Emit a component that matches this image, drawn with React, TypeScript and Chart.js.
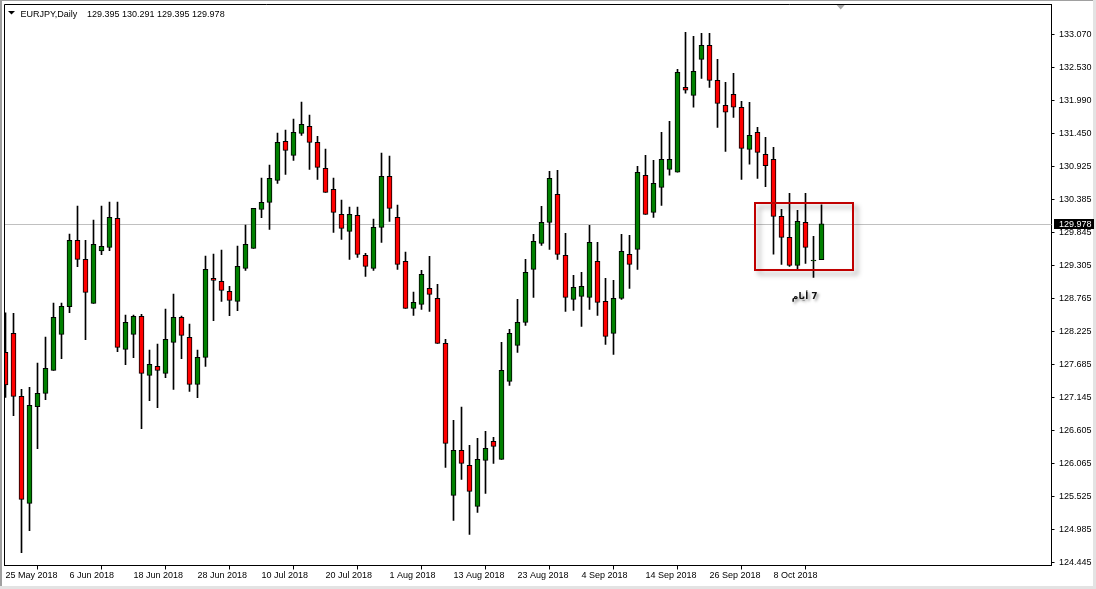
import { useEffect, useRef } from "react";
import { Chart, registerables } from "chart.js";

Chart.register(...registerables);

const symbolTitle = "EURJPY,Daily";
const headerValues = "129.395 130.291 129.395 129.978";

const opens = [
  127.876, 128.187, 127.156, 125.405, 126.987, 127.205, 127.582, 128.171, 128.624, 129.709,
  129.398, 128.678, 129.535, 129.595, 130.070, 127.925, 128.171, 128.465, 127.500, 127.647,
  127.533, 128.040, 128.449, 128.122, 127.352, 127.794, 129.087, 129.038, 128.875, 128.711,
  129.251, 129.578, 130.217, 130.331, 130.691, 131.330, 131.101, 131.461, 131.575, 131.313,
  130.888, 130.544, 130.135, 129.857, 130.119, 129.464, 129.251, 129.922, 130.757, 130.086,
  129.366, 128.596, 128.662, 128.924, 128.760, 128.024, 125.536, 126.272, 126.027, 125.356,
  126.109, 126.420, 126.125, 127.402, 127.991, 128.368, 129.235, 129.661, 130.004, 130.463,
  129.464, 128.744, 128.793, 128.777, 129.366, 128.711, 128.187, 128.760, 129.480, 129.562,
  130.774, 130.168, 130.577, 130.872, 130.823, 132.214, 132.083, 132.672, 132.901, 132.328,
  131.919, 132.099, 131.887, 131.199, 131.477, 131.117, 131.035, 130.102, 129.758, 129.300,
  130.004, 129.372, 129.395,
];
const highs = [
  128.525, 128.515, 127.271, 127.303, 127.702, 128.127, 128.684, 128.684, 129.813, 130.271,
  129.709, 130.042, 130.271, 130.337, 130.337, 128.487, 128.487, 128.498, 127.914, 128.013,
  128.586, 128.831, 128.471, 128.340, 127.914, 129.453, 129.486, 129.551, 128.956, 129.617,
  129.960, 130.233, 130.730, 130.942, 131.466, 131.515, 131.695, 131.974, 131.761, 131.412,
  131.204, 130.730, 130.370, 130.255, 130.255, 129.497, 130.059, 131.139, 131.090, 130.288,
  129.518, 128.864, 129.219, 129.448, 128.990, 128.089, 126.764, 126.982, 126.354, 126.469,
  126.583, 126.485, 128.040, 128.253, 128.744, 129.399, 129.808, 130.266, 130.839, 130.856,
  129.824, 129.137, 129.186, 129.955, 129.677, 129.088, 129.055, 129.808, 129.791, 130.921,
  131.101, 131.019, 131.477, 131.657, 132.509, 133.114, 133.049, 133.098, 133.098, 132.672,
  132.296, 132.443, 131.985, 131.968, 131.559, 131.395, 131.231, 130.216, 130.478, 130.200,
  130.478, 129.775, 130.291,
];
const lows = [
  127.140, 126.840, 124.597, 124.957, 126.299, 127.101, 127.582, 127.773, 128.525, 129.278,
  128.084, 128.678, 129.475, 129.540, 127.887, 127.674, 127.789, 126.627, 127.085, 126.971,
  127.462, 127.271, 127.773, 127.238, 127.134, 127.647, 128.394, 128.711, 128.476, 128.558,
  129.218, 129.578, 130.080, 129.889, 130.642, 130.790, 131.019, 131.428, 130.871, 130.708,
  130.495, 129.840, 129.726, 129.398, 129.431, 129.120, 129.218, 129.677, 130.020, 129.235,
  128.596, 128.482, 128.580, 128.548, 128.024, 125.994, 125.127, 125.798, 124.898, 125.258,
  125.569, 126.060, 126.125, 127.336, 127.877, 128.318, 128.777, 129.628, 129.562, 129.399,
  128.548, 128.564, 128.302, 128.580, 128.482, 128.007, 127.844, 128.744, 128.924, 129.235,
  130.135, 130.086, 130.282, 130.774, 130.823, 132.116, 131.887, 132.361, 132.214, 131.559,
  131.166, 131.723, 130.708, 130.954, 130.724, 130.587, 129.485, 129.316, 129.283, 129.234,
  129.333, 129.103, 129.395,
];
const closes = [
  127.342, 127.156, 125.470, 127.009, 127.205, 127.614, 128.449, 128.629, 129.709, 129.398,
  128.858, 129.644, 129.611, 130.086, 127.958, 128.367, 128.465, 127.533, 127.680, 127.582,
  128.089, 128.449, 128.155, 127.352, 127.794, 129.235, 129.055, 128.891, 128.727, 129.284,
  129.644, 130.233, 130.331, 130.724, 131.313, 131.182, 131.477, 131.608, 131.313, 130.904,
  130.495, 130.168, 129.906, 130.135, 129.480, 129.284, 129.922, 130.757, 130.233, 129.316,
  128.596, 128.695, 129.153, 128.826, 128.024, 126.387, 126.272, 126.060, 125.601, 126.125,
  126.305, 126.338, 127.582, 128.188, 128.368, 129.186, 129.693, 130.004, 130.725, 129.481,
  128.777, 128.940, 128.957, 129.677, 128.695, 128.138, 128.760, 129.530, 129.317, 130.823,
  130.135, 130.643, 131.035, 131.035, 132.459, 132.165, 132.476, 132.901, 132.328, 131.952,
  131.805, 131.887, 131.215, 131.428, 131.150, 130.931, 130.102, 129.758, 129.300, 130.020,
  129.594, 129.388, 129.978,
];

const dateTickIndex = [0, 8, 16, 24, 32, 40, 48, 56, 64, 72, 80, 88, 96];
const dateTickLabels = [
  "25 May 2018", "6 Jun 2018", "18 Jun 2018", "28 Jun 2018", "10 Jul 2018", "20 Jul 2018",
  "1 Aug 2018", "13 Aug 2018", "23 Aug 2018", "4 Sep 2018", "14 Sep 2018", "26 Sep 2018", "8 Oct 2018",
];
const priceTicks = [
  133.07, 132.53, 131.99, 131.45, 130.925, 130.385, 129.845, 129.305, 128.765,
  128.225, 127.685, 127.145, 126.605, 126.065, 125.525, 124.985, 124.445,
];
const bidPrice = 129.978;
const boxIndexRange = [93.69, 105.94];
const boxPriceRange = [130.321, 129.224];
const boxLabel = "7 أيام";
const boxLabelAt = [99.9, 128.79];
const shiftMarkerIndex = 104.4;

const BULL = "#008000";
const BEAR = "#ff0000";
const FONT = "'Liberation Sans', Arial, sans-serif";

export default function App() {
  const ref = useRef<HTMLCanvasElement | null>(null);

  useEffect(() => {
    const canvas = ref.current;
    if (!canvas) return;
    const idx = opens.map((_, i) => i);
    const wickData = idx.map((i) => ({ x: i, y: [lows[i], highs[i]] }));
    const bodyData = idx.map((i) => ({ x: i, y: [opens[i], closes[i]] }));
    const bodyColors = idx.map((i) => (closes[i] >= opens[i] ? BULL : BEAR));

    const overlay = {
      id: "mt4overlay",
      beforeDatasetsDraw(chart: any) {
        const { ctx, chartArea, scales } = chart;
        const y = Math.round(scales.y.getPixelForValue(bidPrice)) + 0.5;
        ctx.save();
        ctx.strokeStyle = "#c0c0c0";
        ctx.lineWidth = 1;
        ctx.beginPath();
        ctx.moveTo(chartArea.left, y);
        ctx.lineTo(chartArea.right, y);
        ctx.stroke();
        ctx.restore();
      },
      afterDraw(chart: any) {
        const { ctx, chartArea, scales } = chart;
        const xs = scales.x;
        const ys = scales.y;
        ctx.save();
        // window frame
        ctx.fillStyle = "#a0a0a0";
        ctx.fillRect(0, 0, 2, chart.height);
        ctx.fillRect(0, 0, chart.width, 1);
        ctx.fillStyle = "#e3e3e3";
        ctx.fillRect(chart.width - 3, 0, 3, chart.height);
        ctx.fillRect(0, chart.height - 3, chart.width, 3);
        // plot frame left/top
        ctx.strokeStyle = "#000";
        ctx.lineWidth = 1;
        ctx.beginPath();
        ctx.moveTo(chartArea.left, chartArea.bottom);
        ctx.lineTo(chartArea.left, chartArea.top);
        ctx.lineTo(chartArea.right, chartArea.top);
        ctx.stroke();

        // header
        ctx.fillStyle = "#000";
        ctx.beginPath();
        ctx.moveTo(8, 11);
        ctx.lineTo(15, 11);
        ctx.lineTo(11.5, 14.5);
        ctx.closePath();
        ctx.fill();
        ctx.font = "9px " + FONT;
        ctx.textBaseline = "alphabetic";
        ctx.textAlign = "left";
        ctx.fillText(symbolTitle, 20.5, 16.5);
        ctx.fillText(headerValues, 87, 16.5);

        // shift marker
        const sx = xs.getPixelForValue(shiftMarkerIndex);
        ctx.fillStyle = "#a8a8a8";
        ctx.beginPath();
        ctx.moveTo(sx - 4, chartArea.top + 0.5);
        ctx.lineTo(sx + 4, chartArea.top + 0.5);
        ctx.lineTo(sx, chartArea.top + 5);
        ctx.closePath();
        ctx.fill();

        // red box with shadow
        const bx0 = Math.round(xs.getPixelForValue(boxIndexRange[0]));
        const bx1 = Math.round(xs.getPixelForValue(boxIndexRange[1]));
        const by0 = Math.round(ys.getPixelForValue(boxPriceRange[0]));
        const by1 = Math.round(ys.getPixelForValue(boxPriceRange[1]));
        ctx.save();
        ctx.shadowColor = "rgba(0,0,0,0.35)";
        ctx.shadowBlur = 5;
        ctx.shadowOffsetX = 4;
        ctx.shadowOffsetY = 4;
        ctx.strokeStyle = "#c00000";
        ctx.lineWidth = 2;
        ctx.strokeRect(bx0, by0, bx1 - bx0, by1 - by0);
        ctx.restore();

        // label
        ctx.save();
        ctx.shadowColor = "rgba(0,0,0,0.45)";
        ctx.shadowBlur = 3;
        ctx.shadowOffsetX = 2;
        ctx.shadowOffsetY = 2;
        ctx.fillStyle = "#111";
        ctx.font = "bold 9px 'DejaVu Sans', sans-serif";
        (ctx as any).direction = "rtl";
        ctx.textAlign = "center";
        ctx.textBaseline = "middle";
        ctx.fillText(boxLabel, xs.getPixelForValue(boxLabelAt[0]), ys.getPixelForValue(boxLabelAt[1]));
        ctx.restore();

        // bid price label
        const by = Math.round(ys.getPixelForValue(bidPrice));
        ctx.fillStyle = "#000";
        ctx.fillRect(chartArea.right + 2.5, by - 5, 40, 10);
        ctx.fillStyle = "#fff";
        ctx.font = "9px " + FONT;
        ctx.textAlign = "left";
        ctx.textBaseline = "middle";
        ctx.fillText(bidPrice.toFixed(3), chartArea.right + 7.5, by + 0.5);
        ctx.restore();
      },
    };

    const noPad = (s: any) => {
      s.paddingTop = 0;
      s.paddingBottom = 0;
      s.paddingLeft = 0;
      s.paddingRight = 0;
    };

    const chart = new Chart(canvas, {
      type: "bar",
      data: {
        datasets: [
          {
            label: "body",
            data: bodyData as any,
            backgroundColor: bodyColors,
            borderColor: "#000",
            borderWidth: 1,
            borderSkipped: false,
            barThickness: 5,
            grouped: false,
            order: 1,
            clip: 0,
          },
          {
            label: "wick",
            data: wickData as any,
            backgroundColor: "#000",
            borderWidth: 0,
            barThickness: 1,
            grouped: false,
            order: 2,
            clip: 0,
          },
        ],
      },
      options: {
        responsive: false,
        animation: false,
        devicePixelRatio: 1,
        layout: { padding: { left: 4.5, top: 4.5, right: 0, bottom: 0 } },
        plugins: { legend: { display: false }, tooltip: { enabled: false }, title: { display: false } },
        scales: {
          x: {
            type: "linear",
            position: "bottom",
            min: -0.125,
            max: 130.75,
            offset: false,
            afterBuildTicks: (s: any) => {
              s.ticks = dateTickIndex.map((v) => ({ value: v }));
            },
            afterFit: (s: any) => {
              s.height = 23.5;
              noPad(s);
            },
            grid: { drawOnChartArea: false, drawTicks: true, tickLength: 4, color: "#000" },
            border: { display: true, color: "#000", width: 1 },
            ticks: {
              autoSkip: false,
              maxRotation: 0,
              align: "start",
              padding: 1,
              color: "#000",
              font: { family: FONT, size: 9 },
              callback: (_v: any, i: number) => dateTickLabels[i],
            },
          },
          y: {
            type: "linear",
            position: "right",
            min: 124.388,
            max: 133.569,
            afterBuildTicks: (s: any) => {
              s.ticks = priceTicks.map((v) => ({ value: v }));
            },
            afterFit: (s: any) => {
              s.width = 44.5;
              noPad(s);
            },
            grid: { drawOnChartArea: false, drawTicks: true, tickLength: 3, color: "#000" },
            border: { display: true, color: "#000", width: 1 },
            ticks: {
              autoSkip: false,
              padding: 4.5,
              color: "#000",
              font: { family: FONT, size: 9 },
              callback: (v: any) => Number(v).toFixed(3),
            },
          },
        },
      } as any,
      plugins: [overlay],
    });
    return () => chart.destroy();
  }, []);

  return (
    <div style={{ position: "fixed", left: 0, top: 0, width: 1096, height: 589, background: "#fff" }}>
      <canvas ref={ref} width={1096} height={589} style={{ display: "block" }} />
    </div>
  );
}
